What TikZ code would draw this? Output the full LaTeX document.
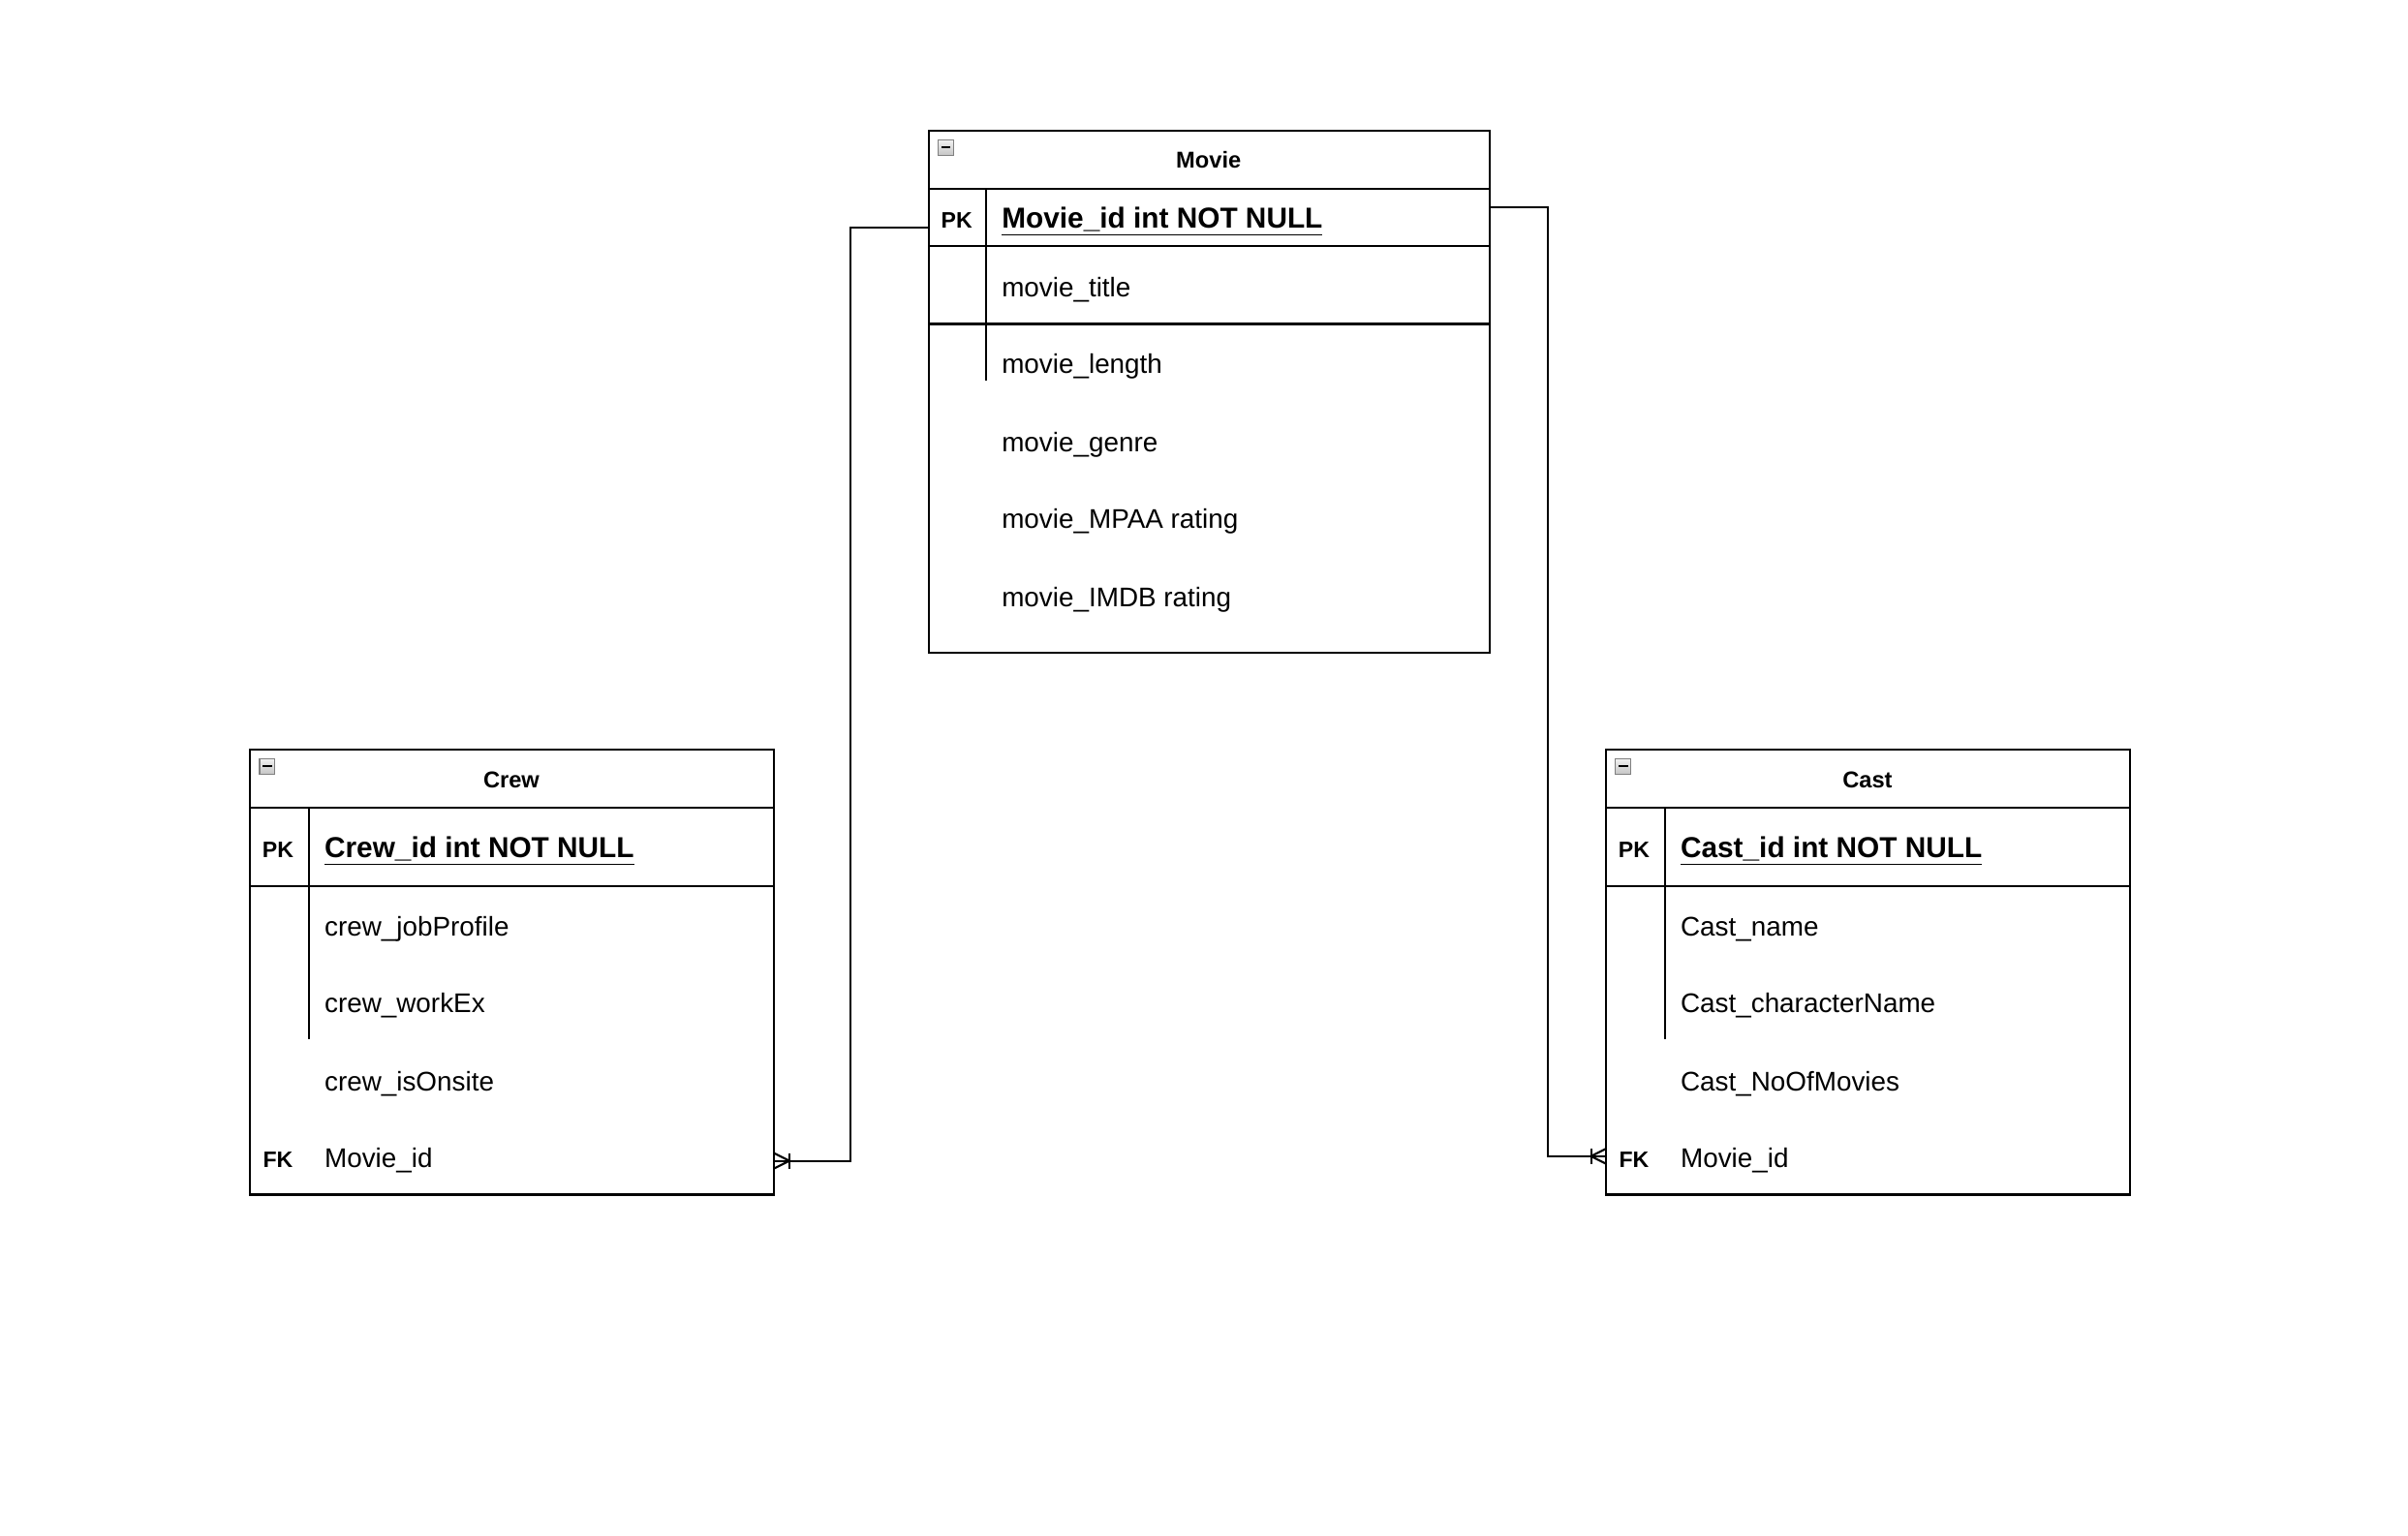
\documentclass[tikz,border=0pt]{standalone}
\usepackage{fontspec}
\setmainfont{Liberation Sans}
\usetikzlibrary{positioning}

\begin{document}
\begin{tikzpicture}[x=0.02cm,y=-0.02cm]

        \tikzstyle{every node}=[inner sep=0pt]
        \tikzstyle{box}=[line width=0.75pt]
        \tikzstyle{link}=[line width=0.75pt]
        \tikzstyle{title}=[font=\fontsize{8.5}{10}\selectfont\bfseries]
        \tikzstyle{key}=[font=\fontsize{8.3}{10}\selectfont\bfseries, text height=0.72em, text depth=0pt]
        \tikzstyle{pkfield}=[anchor=west, font=\fontsize{10.7}{12}\selectfont\bfseries, text height=0.72em, text depth=0pt]
        \tikzstyle{field}=[anchor=west, font=\fontsize{10}{12}\selectfont, text height=0.72em, text depth=0pt]
        \tikzstyle{icon}=[draw=gray, line width=0.4pt, top color=gray!10, bottom color=gray!45]

        % Fix the page size
        \useasboundingbox (0,0) rectangle (1568,1000);

        % Movie table
        \draw[box] (605,85) rectangle (970,425);
        \draw[box] (605,123) -- (970,123);
        \draw[box] (605,160) -- (970,160);
        \draw[box] (605,211) -- (970,211);
        \draw[box] (642,123) -- (642,248);
        \shade[icon] (611,91) rectangle (621,101);
        \draw[line width=0.8pt] (613,96) -- (619,96);
        \node[title] (movieName) at (787,104) {Movie};
        \node[key] (moviePK) at (623,142) {PK};
        \node[pkfield] (movieId) at (652,142) {\underline{Movie\_id int NOT NULL}};
        \node[field] (movieTitle) at (652,187) {movie\_title};
        \node[field] (movieLength) at (652,237) {movie\_length};
        \node[field] (movieGenre) at (652,288) {movie\_genre};
        \node[field] (movieMPAA) at (652,338) {movie\_MPAA rating};
        \node[field] (movieIMDB) at (652,389) {movie\_IMDB rating};

        % Crew table
        \draw[box] (163,488) rectangle (504,778);
        \draw[box] (163,526) -- (504,526);
        \draw[box] (163,577) -- (504,577);
        \draw[box] (201,526) -- (201,677);
        \shade[icon] (169,494) rectangle (179,504);
        \draw[line width=0.8pt] (171,499) -- (177,499);
        \node[title] (crewName) at (333,508) {Crew};
        \node[key] (crewPK) at (181,552) {PK};
        \node[pkfield] (crewId) at (211,552) {\underline{Crew\_id int NOT NULL}};
        \node[field] (crewJob) at (211,603) {crew\_jobProfile};
        \node[field] (crewWork) at (211,653) {crew\_workEx};
        \node[field] (crewOnsite) at (211,704) {crew\_isOnsite};
        \node[key] (crewFKlabel) at (181,754) {FK};
        \node[field] (crewMovie) at (211,754) {Movie\_id};

        % Cast table
        \draw[box] (1046,488) rectangle (1387,778);
        \draw[box] (1046,526) -- (1387,526);
        \draw[box] (1046,577) -- (1387,577);
        \draw[box] (1084,526) -- (1084,677);
        \shade[icon] (1052,494) rectangle (1062,504);
        \draw[line width=0.8pt] (1054,499) -- (1060,499);
        \node[title] (castName) at (1216,508) {Cast};
        \node[key] (castPK) at (1064,552) {PK};
        \node[pkfield] (castId) at (1094,552) {\underline{Cast\_id int NOT NULL}};
        \node[field] (castNm) at (1094,603) {Cast\_name};
        \node[field] (castChar) at (1094,653) {Cast\_characterName};
        \node[field] (castMovies) at (1094,704) {Cast\_NoOfMovies};
        \node[key] (castFKlabel) at (1064,754) {FK};
        \node[field] (castMovie) at (1094,754) {Movie\_id};

        % Connector end points
        \coordinate (movieL) at (605,148);
        \coordinate (movieR) at (970,135);
        \coordinate (crewFK) at (504,756);
        \coordinate (castFK) at (1046,753);

        % Movie -- Crew (one to many)
        \draw[link] (movieL) -- ++(-51,0) |- (crewFK);
        \draw[link] (crewFK) ++(0,-5) -- ++(10,5) -- ++(-10,5);
        \draw[link] (crewFK) ++(10,-5) -- ++(0,10);

        % Movie -- Cast (one to many)
        \draw[link] (movieR) -- ++(38,0) |- (castFK);
        \draw[link] (castFK) ++(0,-5) -- ++(-10,5) -- ++(10,5);
        \draw[link] (castFK) ++(-10,-5) -- ++(0,10);

    \end{tikzpicture}
\end{document}
